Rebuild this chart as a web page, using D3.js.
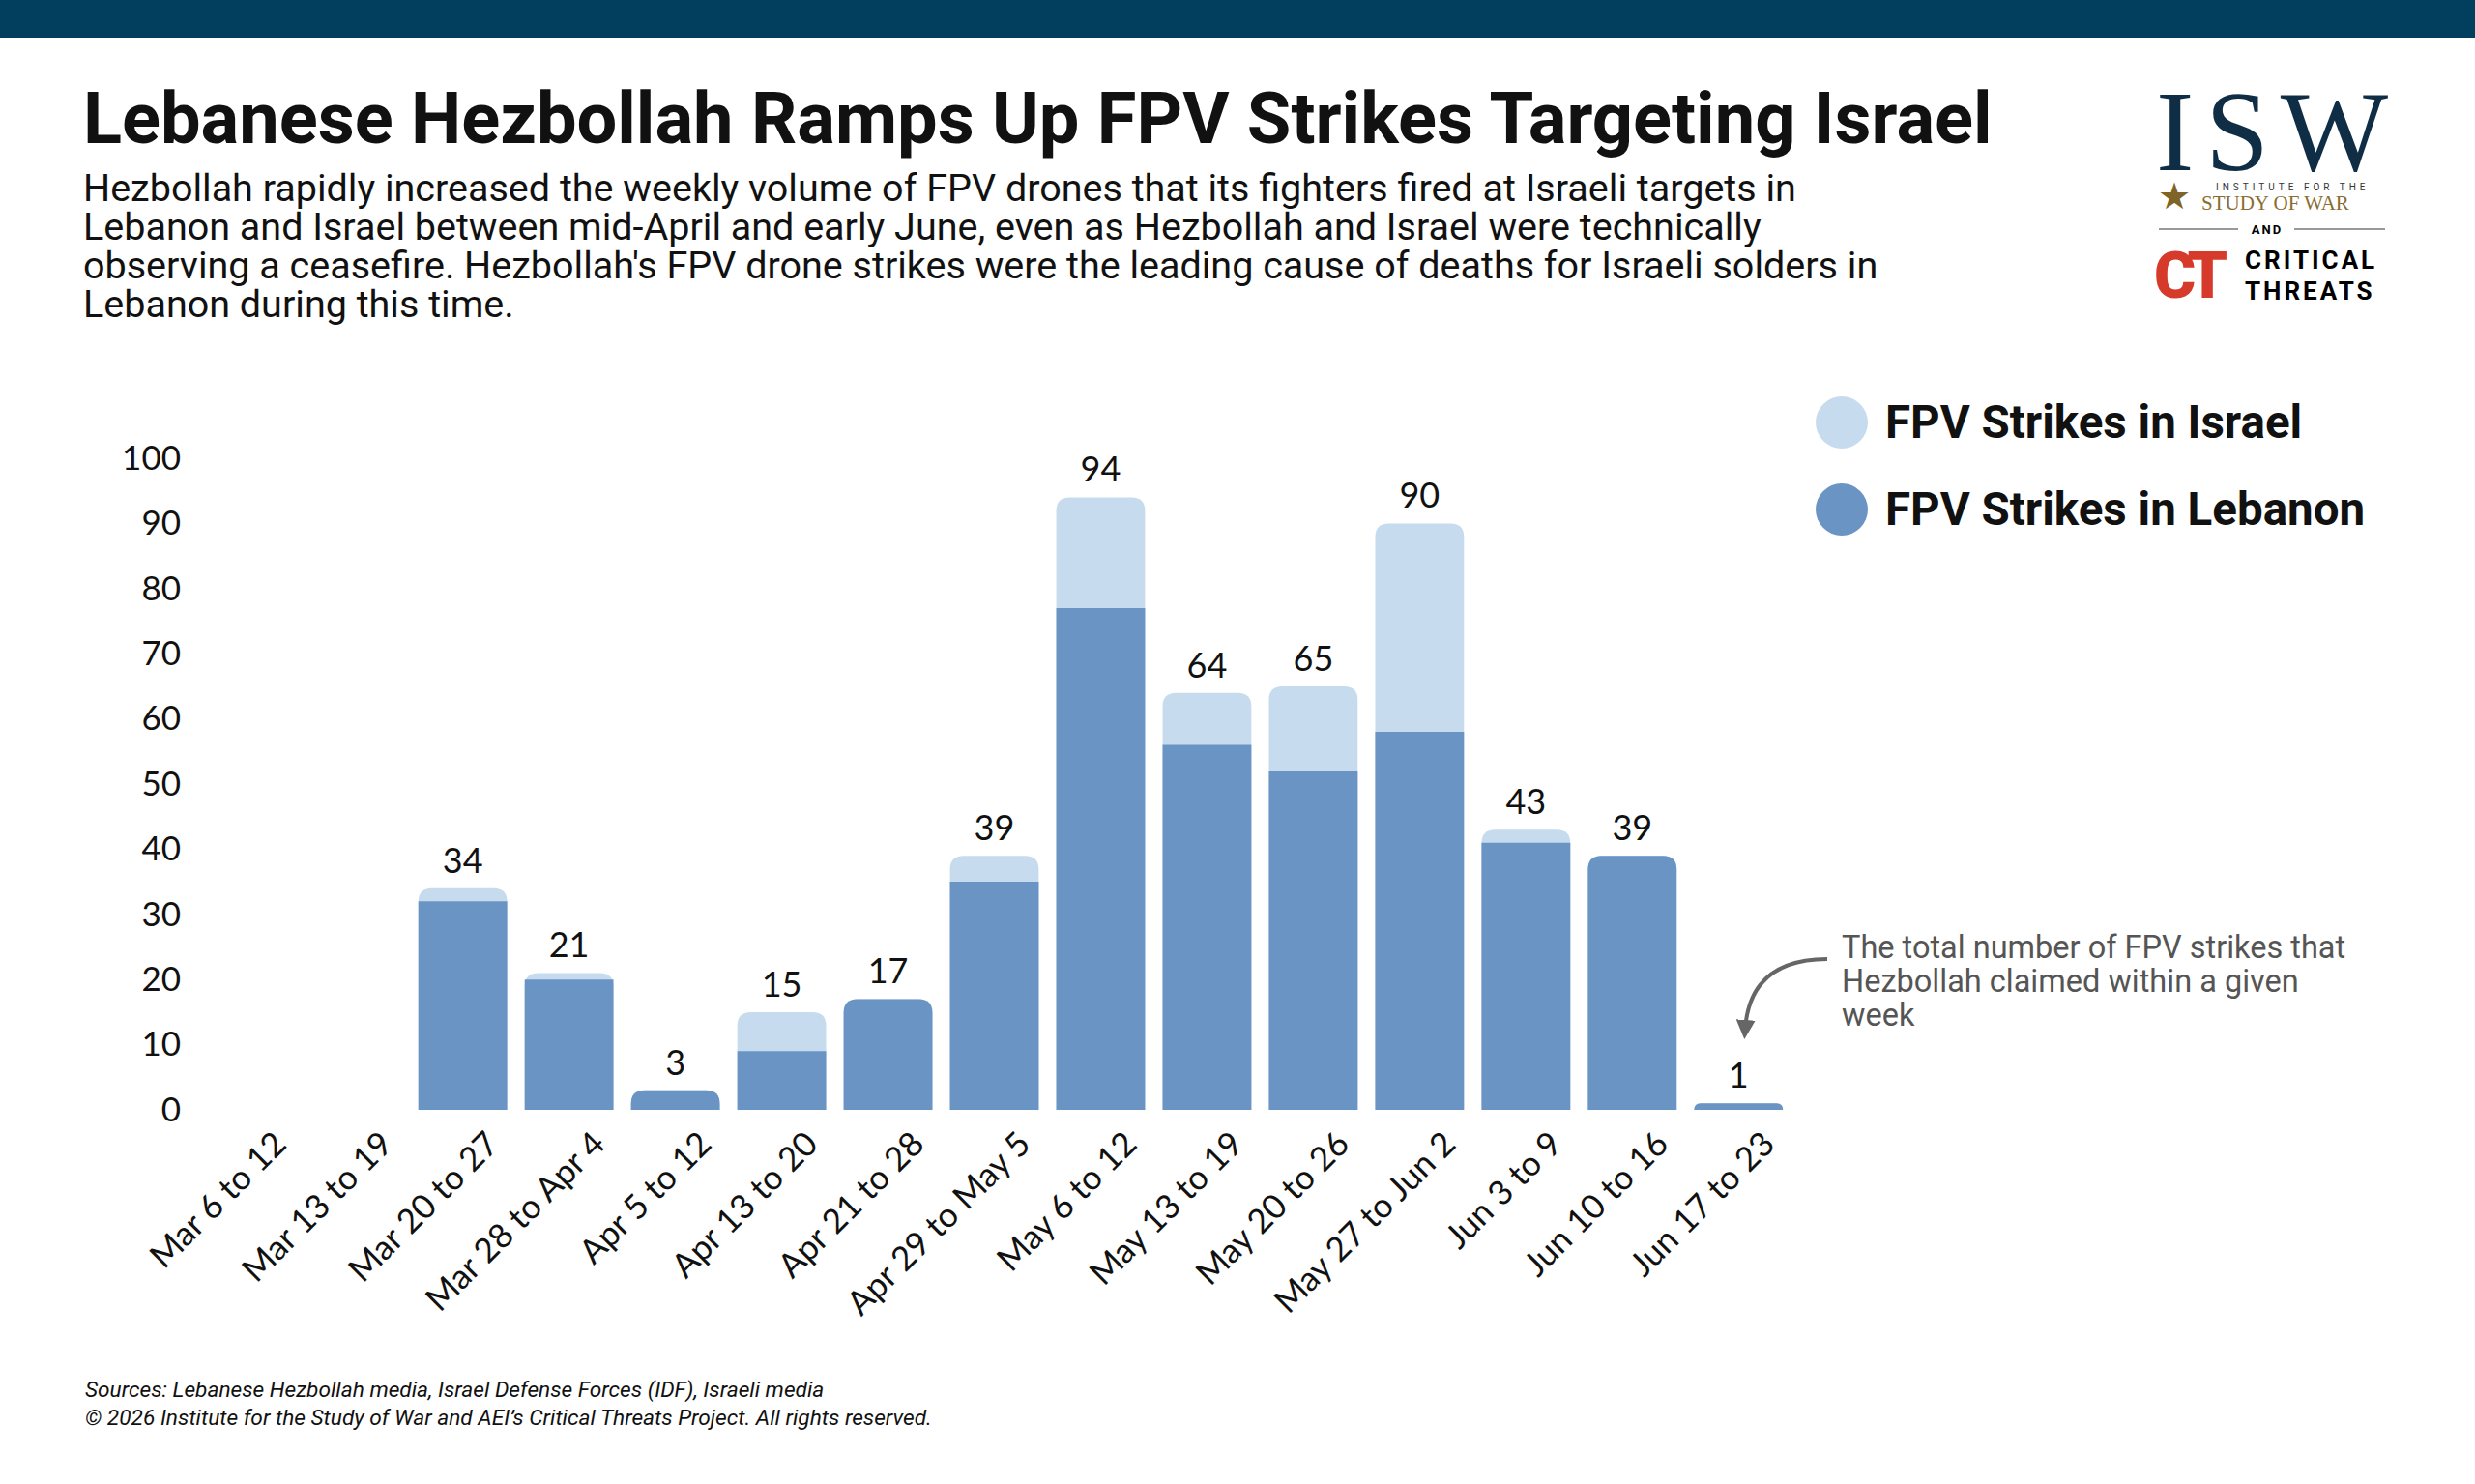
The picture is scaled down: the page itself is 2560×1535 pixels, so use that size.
<!DOCTYPE html>
<html><head><meta charset="utf-8">
<script src="https://cdn.jsdelivr.net/npm/d3@7"></script>
<style>body{margin:0;background:#fff;}</style>
</head><body>
<svg id="chart" width="2560" height="1535"></svg>
<script>
const weeks = ["Mar 6 to 12","Mar 13 to 19","Mar 20 to 27","Mar 28 to Apr 4","Apr 5 to 12","Apr 13 to 20","Apr 21 to 28","Apr 29 to May 5","May 6 to 12","May 13 to 19","May 20 to 26","May 27 to Jun 2","Jun 3 to 9","Jun 10 to 16","Jun 17 to 23"];
const totals = [0,0,34,21,3,15,17,39,94,64,65,90,43,39,1];
const lebanon = [0,0,32,20,3,9,17,35,77,56,52,58,41,39,1];
const yTicks = [0,10,20,30,40,50,60,70,80,90,100];

const LIGHT = "#c6dbee", DARK = "#6a94c4";
const svg = d3.select("#chart");

svg.append("rect").attr("width",2560).attr("height",39).attr("fill","#023f5e");

svg.append("text").attr("x",86).attr("y",148).attr("font-family","Roboto").attr("font-weight",700)
  .attr("font-size",74).attr("fill","#111").text("Lebanese Hezbollah Ramps Up FPV Strikes Targeting Israel");

const sub = ["Hezbollah rapidly increased the weekly volume of FPV drones that its fighters fired at Israeli targets in",
  "Lebanon and Israel between mid-April and early June, even as Hezbollah and Israel were technically",
  "observing a ceasefire. Hezbollah's FPV drone strikes were the leading cause of deaths for Israeli solders in",
  "Lebanon during this time."];
svg.append("g").selectAll("text").data(sub).join("text")
  .attr("x",86).attr("y",(d,i)=>208+i*40).attr("font-family","Roboto").attr("font-size",39.5).attr("fill","#111").text(d=>d);

// logo
const logo = svg.append("g").attr("font-family","Liberation Serif");
logo.append("text").attr("x",2230).attr("y",176).attr("font-size",118).attr("textLength",240).attr("fill","#0f2d44").text("ISW");
logo.append("text").attr("x",2292).attr("y",197).attr("font-family","Roboto").attr("font-size",10).attr("letter-spacing",4).attr("fill","#333").text("INSTITUTE FOR THE");
logo.append("text").attr("x",2277).attr("y",217).attr("font-size",21).attr("fill","#8a6d2f").text("STUDY OF WAR");
logo.append("text").attr("x",2232).attr("y",216).attr("font-size",38).attr("fill","#7f6427").text("★");
logo.append("line").attr("x1",2233).attr("x2",2315).attr("y1",237).attr("y2",237).attr("stroke","#999").attr("stroke-width",2);
logo.append("line").attr("x1",2373).attr("x2",2467).attr("y1",237).attr("y2",237).attr("stroke","#999").attr("stroke-width",2);
logo.append("text").attr("x",2345).attr("y",242).attr("text-anchor","middle").attr("font-family","Roboto").attr("font-weight",700).attr("font-size",13).attr("letter-spacing",2).text("AND");
logo.append("text").attr("x",2228).attr("y",308).attr("font-family","Roboto").attr("font-weight",900).attr("font-size",66).attr("fill","#d63a2a").attr("letter-spacing",-8).text("CT");
logo.append("text").attr("x",2322).attr("y",278).attr("font-family","Roboto").attr("font-weight",700).attr("font-size",26).attr("letter-spacing",3).text("CRITICAL");
logo.append("text").attr("x",2322).attr("y",310).attr("font-family","Roboto").attr("font-weight",700).attr("font-size",26).attr("letter-spacing",3).text("THREATS");

// legend
const leg = svg.append("g");
[["FPV Strikes in Israel",LIGHT],["FPV Strikes in Lebanon",DARK]].forEach((d,i)=>{
  leg.append("circle").attr("cx",1905).attr("cy",437+i*90).attr("r",27).attr("fill",d[1]);
  leg.append("text").attr("x",1950).attr("y",453+i*90).attr("font-family","Roboto").attr("font-weight",700).attr("font-size",47.5).attr("fill","#111").text(d[0]);
});

const x = d3.scaleBand().domain(weeks).range([204,1853]).paddingInner(0.165).paddingOuter(0.08);
const y = d3.scaleLinear().domain([0,100]).range([1148,474]);

const yAxis = svg.append("g").attr("transform","translate(187,0)").call(d3.axisLeft(y).tickValues(yTicks).tickSize(0).tickPadding(0));
yAxis.select(".domain").remove();
yAxis.selectAll("text").attr("font-family","Lato").attr("font-size",35).attr("fill","#111");

function topRounded(x0,y0,w,h,r){
  r=Math.min(r,h,w/2);
  return `M${x0},${y0+h}V${y0+r}Q${x0},${y0} ${x0+r},${y0}H${x0+w-r}Q${x0+w},${y0} ${x0+w},${y0+r}V${y0+h}Z`;
}
const bars = svg.append("g");
weeks.forEach((w,i)=>{
  if(totals[i]<=0) return;
  const bx=x(w), bw=x.bandwidth();
  bars.append("path").attr("d",topRounded(bx,y(totals[i]),bw,y(0)-y(totals[i]),14)).attr("fill",LIGHT);
  const r = lebanon[i]===totals[i]?14:0;
  bars.append("path").attr("d",topRounded(bx,y(lebanon[i]),bw,y(0)-y(lebanon[i]),r)).attr("fill",DARK);
  bars.append("text").attr("x",bx+bw/2).attr("y",y(totals[i])-16).attr("text-anchor","middle")
    .attr("font-family","Lato").attr("font-size",36).attr("fill","#111").text(totals[i]);
});

const xAxis = svg.append("g").attr("transform","translate(0,1168)").call(d3.axisBottom(x).tickSize(0).tickPadding(0));
xAxis.select(".domain").remove();
xAxis.selectAll("text").attr("font-family","Lato").attr("font-size",35).attr("fill","#111")
  .attr("text-anchor","end").attr("dy","0.7em").attr("transform","translate(22,0) rotate(-45)");

// annotation
const ann = ["The total number of FPV strikes that","Hezbollah claimed within a given","week"];
svg.append("g").selectAll("text").data(ann).join("text").attr("x",1905).attr("y",(d,i)=>991+i*35)
  .attr("font-family","Roboto").attr("font-size",32.5).attr("fill","#555").text(d=>d);
svg.append("defs").append("marker").attr("id","ah").attr("viewBox","0 0 10 10").attr("refX",5).attr("refY",5)
  .attr("markerWidth",5).attr("markerHeight",5).attr("orient","auto-start-reverse")
  .append("path").attr("d","M0,0L10,5L0,10z").attr("fill","#666");
svg.append("path").attr("d","M1890,992 Q1810,992 1805,1065").attr("fill","none").attr("stroke","#666").attr("stroke-width",4).attr("marker-end","url(#ah)");

svg.append("text").attr("x",88).attr("y",1445).attr("font-family","Roboto").attr("font-style","italic").attr("font-size",22.7).attr("fill","#111").text("Sources: Lebanese Hezbollah media, Israel Defense Forces (IDF), Israeli media");
svg.append("text").attr("x",88).attr("y",1474).attr("font-family","Roboto").attr("font-style","italic").attr("font-size",22.7).attr("fill","#111").text("© 2026 Institute for the Study of War and AEI’s Critical Threats Project. All rights reserved.");
</script>
</body></html>
